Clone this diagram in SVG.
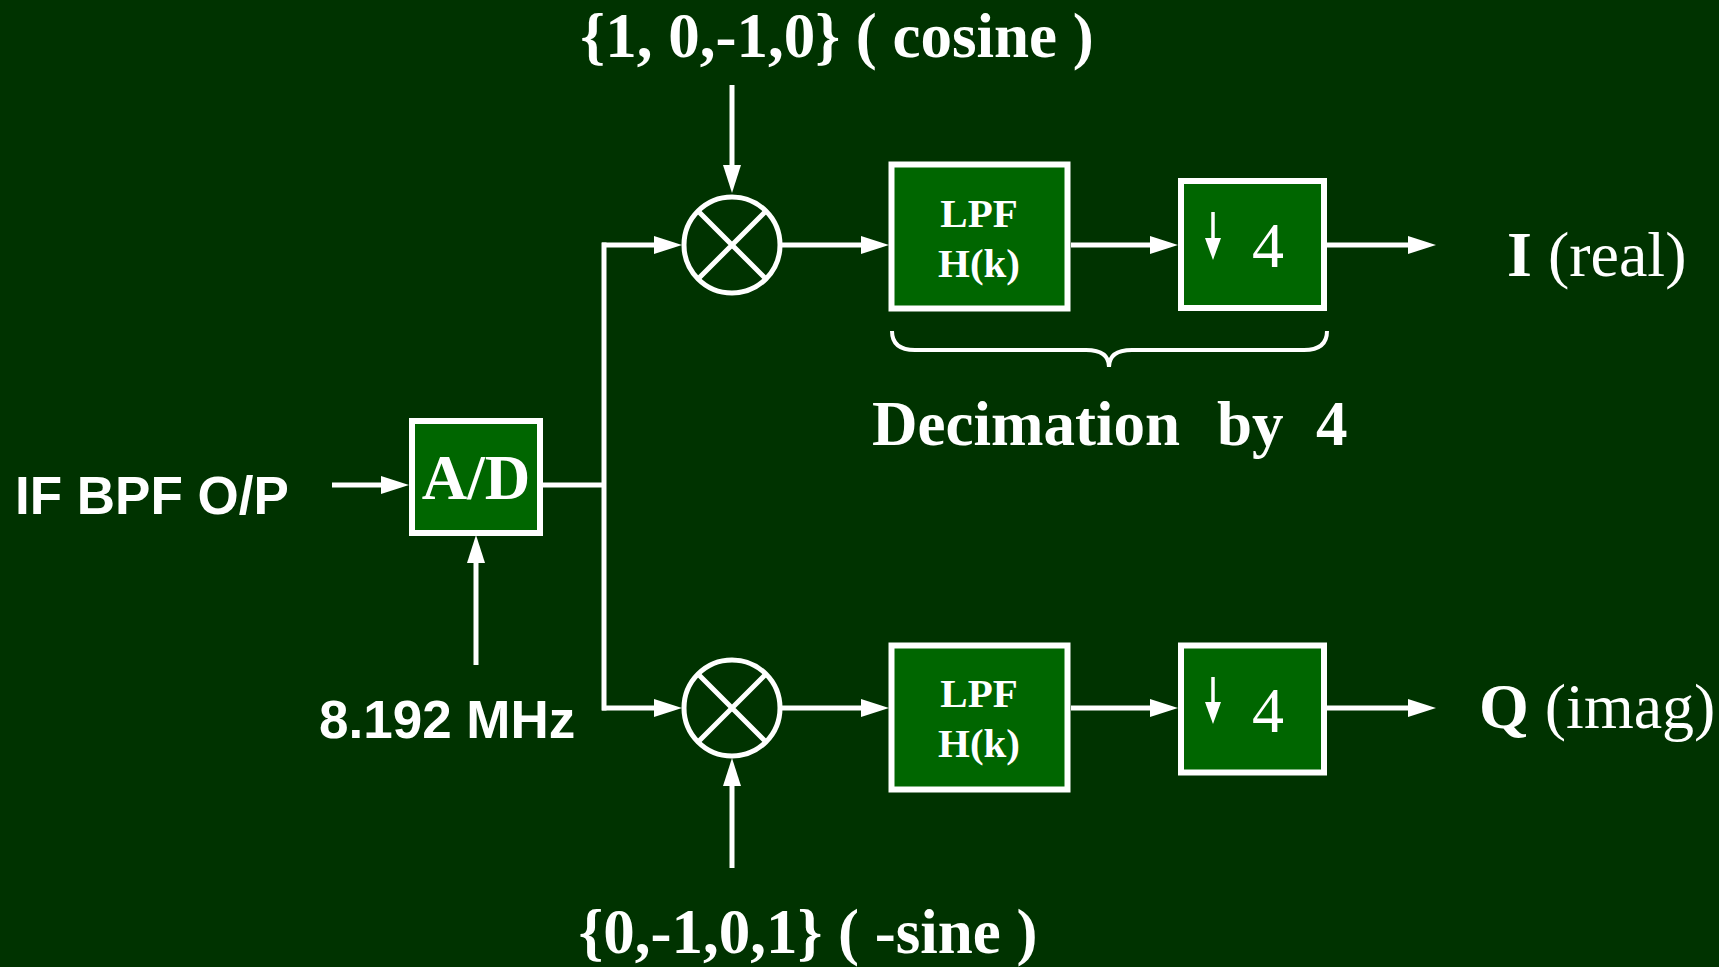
<svg xmlns="http://www.w3.org/2000/svg" width="1719" height="967" viewBox="0 0 1719 967">
<style>
.box{fill:#006600;stroke:#ffffff;stroke-width:6}
.ln{fill:none;stroke:#ffffff;stroke-width:5}
.thin{fill:none;stroke:#ffffff;stroke-width:3.5}
.serif{font-family:"Liberation Serif","Times New Roman",serif;fill:#ffffff}
.sans{font-family:"Liberation Sans",Arial,sans-serif;font-weight:bold;fill:#ffffff}
.b{font-weight:bold}
</style>
<defs>
<marker id="arr" markerUnits="userSpaceOnUse" markerWidth="28" markerHeight="18" refX="18" refY="9" orient="auto">
<path d="M0,0 L28,9 L0,18 z" fill="#ffffff"/>
</marker>
<marker id="arrS" markerUnits="userSpaceOnUse" markerWidth="22" markerHeight="18" refX="16" refY="9" orient="auto">
<path d="M0,1 L22,9 L0,17 z" fill="#ffffff"/>
</marker>
</defs>
<rect width="1719" height="967" fill="#003300"/>

<g id="connectors">
<line class="ln" x1="332" y1="485" x2="399" y2="485" marker-end="url(#arr)"/>
<line class="ln" x1="476" y1="665" x2="476" y2="545" marker-end="url(#arr)"/>
<path class="ln" d="M540,485 H604"/>
<path class="ln" d="M604,245 V708" stroke-linecap="square"/>
<line class="ln" x1="602" y1="245" x2="672" y2="245" marker-end="url(#arr)"/>
<line class="ln" x1="602" y1="708" x2="672" y2="708" marker-end="url(#arr)"/>
<line class="ln" x1="732" y1="85" x2="732" y2="183" marker-end="url(#arr)"/>
<line class="ln" x1="732" y1="868" x2="732" y2="768" marker-end="url(#arr)"/>
<line class="ln" x1="782" y1="245" x2="879" y2="245" marker-end="url(#arr)"/>
<line class="ln" x1="782" y1="708" x2="879" y2="708" marker-end="url(#arr)"/>
<line class="ln" x1="1071" y1="245" x2="1168" y2="245" marker-end="url(#arr)"/>
<line class="ln" x1="1071" y1="708" x2="1168" y2="708" marker-end="url(#arr)"/>
<line class="ln" x1="1326" y1="245" x2="1426" y2="245" marker-end="url(#arr)"/>
<line class="ln" x1="1326" y1="708" x2="1426" y2="708" marker-end="url(#arr)"/>
</g>

<g id="input-label">
<text class="sans" x="15" y="514" font-size="53">IF BPF O/P</text>
</g>
<g id="clock-label">
<text class="sans" x="319" y="738" font-size="53">8.192 MHz</text>
</g>

<g id="ad">
<rect class="box" x="412" y="421" width="128" height="112"/>
<text class="serif b" x="476" y="499" font-size="63" text-anchor="middle">A/D</text>
</g>

<g id="cos-label">
<text class="serif b" x="837" y="57" font-size="63" text-anchor="middle">{1, 0,-1,0} ( cosine )</text>
</g>
<g id="sin-label">
<text class="serif b" x="808" y="953" font-size="63" text-anchor="middle">{0,-1,0,1} ( -sine )</text>
</g>

<g id="mixer-i">
<circle class="ln" cx="732" cy="245" r="48"/>
<path class="ln" d="M698,211 L766,279 M766,211 L698,279"/>
</g>
<g id="mixer-q">
<circle class="ln" cx="732" cy="708" r="48"/>
<path class="ln" d="M698,674 L766,742 M766,674 L698,742"/>
</g>

<g id="lpf-i">
<rect class="box" x="891.5" y="164.5" width="176" height="144"/>
<text class="serif b" x="979" y="227" font-size="41" text-anchor="middle">LPF</text>
<text class="serif b" x="979" y="277" font-size="41" text-anchor="middle">H(k)</text>
</g>
<g id="lpf-q">
<rect class="box" x="891.5" y="645.5" width="176" height="144"/>
<text class="serif b" x="979" y="707" font-size="41" text-anchor="middle">LPF</text>
<text class="serif b" x="979" y="757" font-size="41" text-anchor="middle">H(k)</text>
</g>

<g id="dec-i">
<rect class="box" x="1181" y="181" width="143" height="127"/>
<line class="thin" x1="1213" y1="212" x2="1213" y2="254" marker-end="url(#arrS)"/>
<text class="serif" x="1252" y="267" font-size="64">4</text>
</g>
<g id="dec-q">
<rect class="box" x="1181" y="645.5" width="143" height="127"/>
<line class="thin" x1="1213" y1="677" x2="1213" y2="718" marker-end="url(#arrS)"/>
<text class="serif" x="1252" y="732" font-size="64">4</text>
</g>

<g id="out-i">
<text class="serif" x="1507" y="276" font-size="64"><tspan class="b">I</tspan> (real)</text>
</g>
<g id="out-q">
<text class="serif" x="1479" y="728" font-size="64"><tspan class="b">Q</tspan> (imag)</text>
</g>

<g id="brace">
<path fill="none" stroke="#ffffff" stroke-width="4" d="M892,331 Q892,350 915,350 H1086 Q1109,350 1109,367 Q1109,350 1132,350 H1304 Q1327,350 1327,331"/>
<text class="serif b" font-size="63" y="445"><tspan x="872">Decimation</tspan><tspan x="1217">by</tspan><tspan x="1316">4</tspan></text>
</g>
</svg>
